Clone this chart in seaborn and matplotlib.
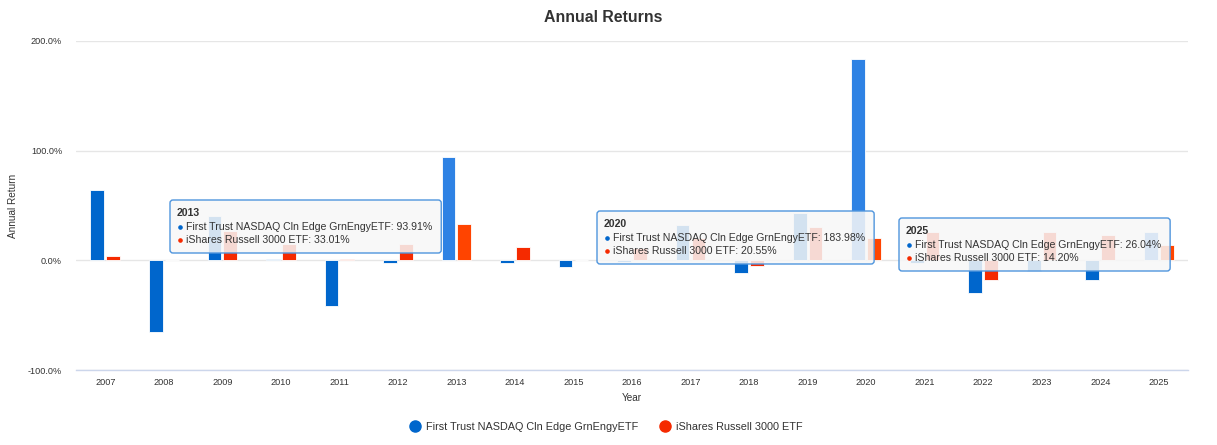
import numpy as np
import pandas as pd
import matplotlib
matplotlib.use("Agg")
import matplotlib.pyplot as plt
import seaborn as sns
from matplotlib.patches import FancyBboxPatch
from matplotlib.lines import Line2D
from matplotlib.ticker import FuncFormatter

# ---------------- data ----------------
years = [str(y) for y in range(2007, 2026)]
ftrust = [64.0, -65.0, 40.0, 1.5, -42.0, -2.5, 93.91, -2.0, -5.8, -1.5,
          32.0, -11.3, 42.8, 183.98, -2.5, -29.6, -10.0, -18.0, 26.04]
ishares = [4.0, 0.0, 26.6, 14.7, 0.8, 14.7, 33.01, 12.2, 0.5, 11.5,
           20.0, -5.2, 30.0, 20.55, 25.4, -18.0, 25.4, 23.0, 14.20]
series_names = ["First Trust NASDAQ Cln Edge GrnEngyETF", "iShares Russell 3000 ETF"]
tooltip_years = ["2013", "2020", "2025"]
y_ticks = [-100, 0, 100, 200]

df = pd.DataFrame({
    "Year": years * 2,
    "Return": ftrust + ishares,
    "Fund": [series_names[0]] * len(years) + [series_names[1]] * len(years),
})

# ---------------- style ----------------
sns.set_theme(style="white")
plt.rcParams['font.family'] = ['Liberation Sans', 'DejaVu Sans']
txt = "#333333"
blue, red = "#0066cc", "#f52a00"
hl_blue, hl_red = "#2e82e4", "#ff4400"

W, H = 1217, 445
fig = plt.figure(figsize=(W / 100, H / 100), dpi=100)
ax = fig.add_axes([76 / W, 1 - 370 / H, 1112 / W, 329 / H])

sns.barplot(data=df, x="Year", y="Return", hue="Fund", hue_order=series_names,
            palette=[blue, red], saturation=1, width=0.54, gap=0.13, ax=ax, legend=False,
            edgecolor="white", linewidth=0.6, zorder=3)

# hover highlight for the years with tooltips
for cont, hc in zip(ax.containers, [hl_blue, hl_red]):
    for yr in tooltip_years:
        cont.patches[years.index(yr)].set_facecolor(hc)

ax.set_xlim(-0.5, len(years) - 0.5)
ax.set_ylim(-100, 200)
ax.set_yticks(y_ticks)
ax.yaxis.set_major_formatter(FuncFormatter(lambda v, p: f"{v:.1f}%"))
ax.yaxis.grid(True, color="#e6e6e6", lw=1)
ax.xaxis.grid(False)
ax.set_axisbelow(True)
for s in ["top", "right", "left"]:
    ax.spines[s].set_visible(False)
ax.spines["bottom"].set_color("#ccd6eb")
ax.spines["bottom"].set_linewidth(1)
ax.tick_params(axis="both", length=0, labelsize=6.6, colors=txt)
ax.tick_params(axis="y", pad=10)
ax.tick_params(axis="x", pad=6)

ax.set_xlabel("Year", fontsize=7.2, color=txt)
ax.xaxis.set_label_coords(0.5, -0.07)
ax.set_ylabel("Annual Return", fontsize=7.2, color=txt)
ax.yaxis.set_label_coords(-0.052, 0.5)

fig.text(603 / W, 1 - 18 / H, "Annual Returns", ha="center", va="center",
         fontsize=11.4, weight="bold", color=txt)

handles = [Line2D([], [], ls="none", marker="o", ms=8, color=c) for c in [blue, red]]
leg = fig.legend(handles, series_names, loc="center", bbox_to_anchor=(606 / W, 1 - 427 / H),
                 ncol=2, frameon=False, fontsize=7.8, handletextpad=0.5,
                 columnspacing=2.0, handlelength=1.0)
for t in leg.get_texts():
    t.set_color(txt)

# ---------------- tooltips ----------------
ov = fig.add_axes([0, 0, 1, 1], zorder=5)
ov.set_xlim(0, W)
ov.set_ylim(H, 0)
ov.axis("off")

tips = {"2013": (170, 200), "2020": (597, 211), "2025": (899, 218)}
fig.canvas.draw()
renderer = fig.canvas.get_renderer()
for yr, (bx, by) in tips.items():
    i = years.index(yr)
    fs = 7.6
    ov.text(bx + 7, by + 13, yr, fontsize=fs, weight="bold", va="center", color=txt, zorder=7)
    ov.plot(bx + 10, by + 27, "o", ms=2.3, color=blue, zorder=7)
    ov.plot(bx + 10, by + 40, "o", ms=2.3, color=red, zorder=7)
    t1 = ov.text(bx + 16, by + 27, f"{series_names[0]}: {ftrust[i]:.2f}%",
                 fontsize=fs, va="center", color=txt, zorder=7)
    t2 = ov.text(bx + 16, by + 40, f"{series_names[1]}: {ishares[i]:.2f}%",
                 fontsize=fs, va="center", color=txt, zorder=7)
    right = max(t1.get_window_extent(renderer).x1, t2.get_window_extent(renderer).x1)
    w = right + 9 - bx
    box = FancyBboxPatch((bx, by), w, 53, boxstyle="round,pad=0,rounding_size=3",
                         fc=(0.969, 0.969, 0.969, 0.86), ec="#4f95dd", lw=1.0, zorder=6)
    ov.add_patch(box)

fig.savefig("out.png", dpi=100)
